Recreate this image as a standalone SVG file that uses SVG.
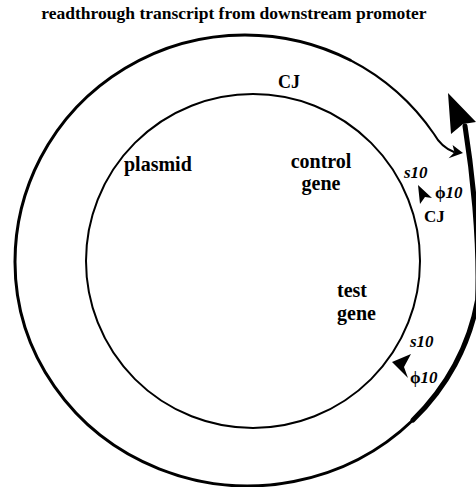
<svg xmlns="http://www.w3.org/2000/svg" width="476" height="487" viewBox="0 0 476 487">
<style>
.lbl{font-family:"Liberation Serif","Times New Roman",serif;font-weight:bold;fill:#000}
.it{font-family:"Liberation Serif","Times New Roman",serif;font-weight:bold;font-style:italic;fill:#000}
.up{font-style:normal}
.ln{fill:none;stroke:#000;stroke-linecap:round}
</style>
<rect width="476" height="487" fill="#fff"/>
<text class="lbl" x="234" y="19" font-size="17.5" text-anchor="middle">readthrough transcript from downstream promoter</text>
<g id="connectors">
<path class="ln" stroke-width="2" d="M454,152 C446,149 439,143 434,134 A230 227 0 0 0 350,60"/>
<path class="ln" stroke-width="3" d="M350,60 A230 227 0 0 0 15,262 A233 224 0 0 0 413,420"/>
<polygon points="463,153 452.6,144.9 454.5,152.3 448.6,158.3" fill="#000"/>
<path class="ln" stroke-width="5" d="M413,420 A233 224 0 0 0 477.6,300 C480,240 472,170 465,126"/>
<polygon points="448,93 476,122 463,124 451,134" fill="#000"/>
</g>
<g id="plasmid">
<circle cx="253" cy="261" r="167" fill="none" stroke="#000" stroke-width="2"/>
<text class="lbl" x="124" y="171" font-size="20">plasmid</text>
</g>
<g id="cj-top"><text class="lbl" x="289" y="88" font-size="18" text-anchor="middle">CJ</text></g>
<g id="control-gene">
<text class="lbl" x="321" y="168" font-size="20" text-anchor="middle">control</text>
<text class="lbl" x="321" y="190" font-size="20" text-anchor="middle">gene</text>
</g>
<g id="promoter-control">
<polygon points="418,185 432,198 425,197 420,204" fill="#000"/>
<text class="it" x="404" y="178" font-size="17">s10</text>
<text class="it" x="435" y="198" font-size="17"><tspan class="up">ϕ</tspan>10</text>
<text class="lbl" x="424" y="222" font-size="17">CJ</text>
</g>
<g id="test-gene">
<text class="lbl" x="337" y="297" font-size="20">test</text>
<text class="lbl" x="337" y="320" font-size="20">gene</text>
</g>
<g id="promoter-test">
<polygon points="392,362 411,354 404,367 408,378" fill="#000"/>
<text class="it" x="410" y="347" font-size="17">s10</text>
<text class="it" x="410" y="383" font-size="17"><tspan class="up">ϕ</tspan>10</text>
</g>
</svg>
